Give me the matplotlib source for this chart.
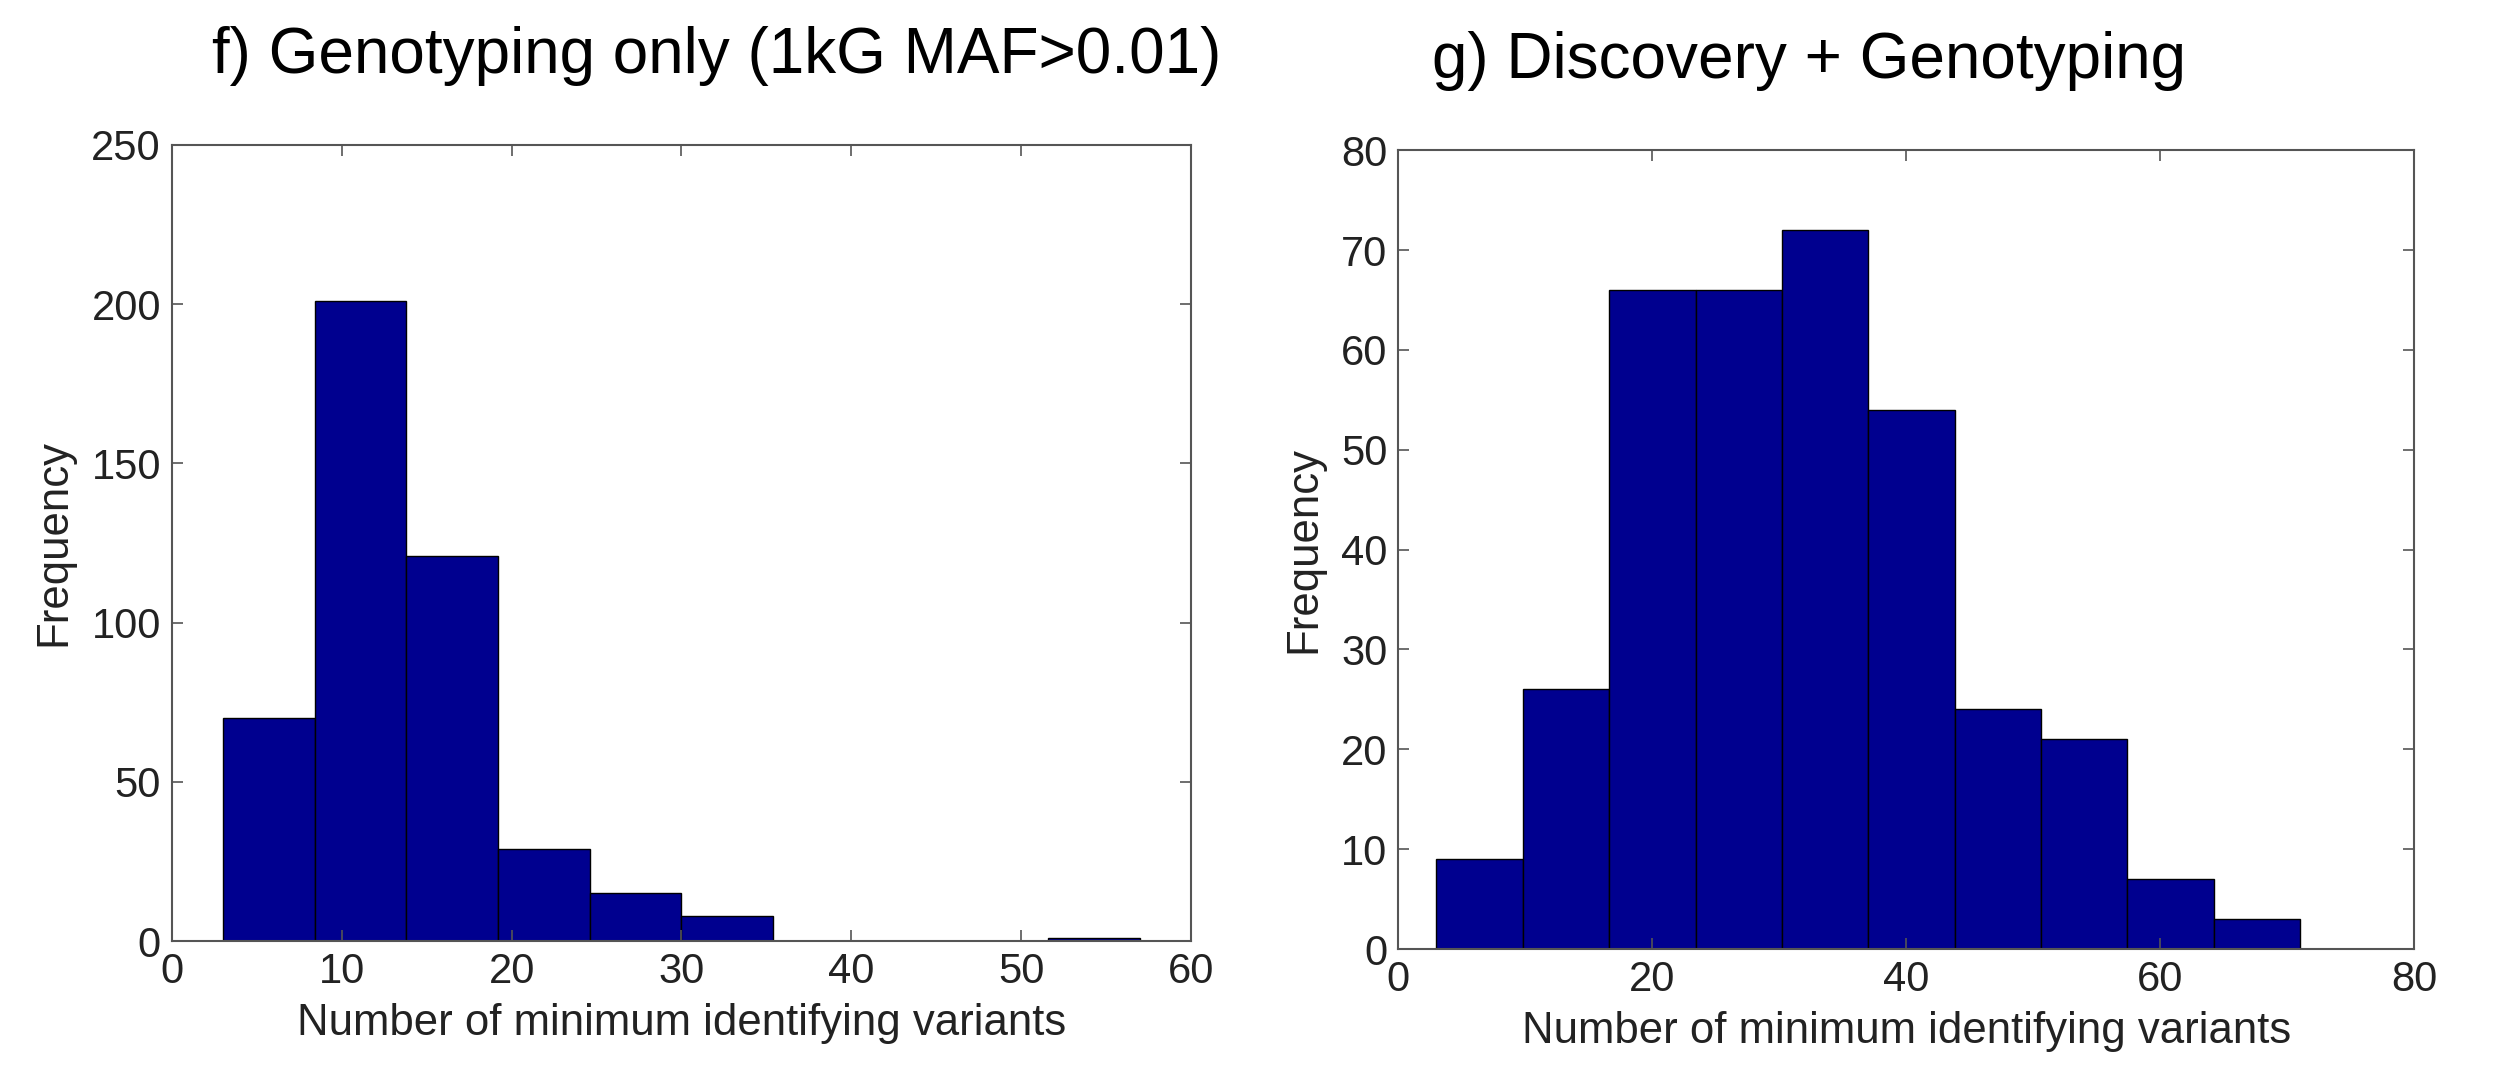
import numpy as np
import matplotlib
matplotlib.use("Agg")
import matplotlib.pyplot as plt

plt.rcParams["font.family"] = ["Liberation Sans", "DejaVu Sans"]

# panel f: genotyping only
f_counts = [70, 201, 121, 29, 15, 8, 0, 0, 0, 1]
f_range = (3.0, 57.0)
f_xticks = [0, 10, 20, 30, 40, 50, 60]
f_yticks = [0, 50, 100, 150, 200, 250]

# panel g: discovery + genotyping
g_counts = [9, 26, 66, 66, 72, 54, 24, 21, 7, 3]
g_range = (3.0, 71.0)
g_xticks = [0, 20, 40, 60, 80]
g_yticks = [0, 10, 20, 30, 40, 50, 60, 70, 80]

bar_color = (0, 0, 0.5625)
spine_color = "#555555"

fig = plt.figure(figsize=(24.97, 10.81), dpi=100)


def draw_panel(rect, counts, rng, xticks, yticks):
    ax = fig.add_axes(rect)
    edges = np.linspace(rng[0], rng[1], len(counts) + 1)
    ax.bar(edges[:-1], counts, width=np.diff(edges), align="edge",
           color=bar_color, edgecolor="black", linewidth=1.0)
    ax.set_xlim(xticks[0], xticks[-1])
    ax.set_ylim(yticks[0], yticks[-1])
    ax.set_xticks(xticks)
    ax.set_yticks(yticks)
    ax.tick_params(direction="in", top=True, right=True, length=8,
                   width=1.2, color=spine_color, labelsize=30, pad=8,
                   labelcolor="#222222")
    for s in ax.spines.values():
        s.set_color(spine_color)
        s.set_linewidth(1.5)
    ax.set_xlabel("Number of minimum identifying variants", fontsize=31.5,
                  labelpad=8, color="#222222")
    ax.set_ylabel("Frequency", fontsize=31.5, labelpad=12, color="#222222")
    return ax


ax_f = draw_panel([0.0689, 0.1295, 0.408, 0.7364], f_counts, f_range, f_xticks, f_yticks)
ax_g = draw_panel([0.560, 0.1221, 0.4069, 0.739], g_counts, g_range, g_xticks, g_yticks)

fig.text(0.287, 0.948, "f) Genotyping only (1kG MAF>0.01)", fontsize=46,
         ha="center", va="center")
fig.text(0.7245, 0.944, "g) Discovery + Genotyping", fontsize=46,
         ha="center", va="center")

fig.savefig("out.png", dpi=100)
